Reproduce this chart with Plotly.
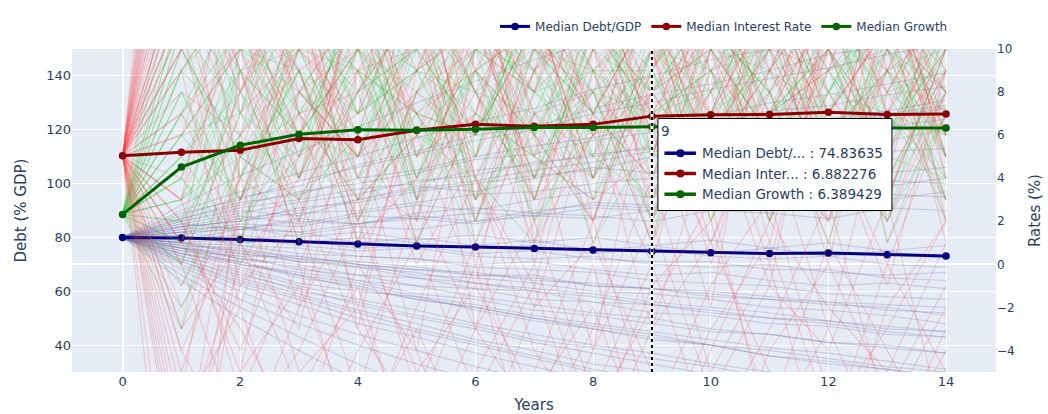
import plotly.graph_objects as go

# ---- data -------------------------------------------------------------
years = list(range(15))

median_debt = [80.0, 79.8, 79.2, 78.4, 77.6, 76.8, 76.4, 75.9, 75.3, 74.83635,
               74.3, 74.0, 74.2, 73.6, 73.1]
median_interest = [5.04, 5.21, 5.30, 5.84, 5.79, 6.23, 6.50, 6.41, 6.50, 6.882276,
                   6.95, 6.96, 7.06, 6.96, 6.98]
median_growth = [2.32, 4.52, 5.53, 6.04, 6.25, 6.23, 6.27, 6.35, 6.35, 6.389429,
                 6.37, 6.35, 6.34, 6.33, 6.33]

# simulated paths, years 1..14 (year 0 is the common starting point)
debt_paths = [
    [88, 95, 99, 107, 112, 118, 121, 128, 133, 137, 142, 148, 151, 156],
    [72, 66, 61, 55, 50, 46, 41, 37, 33, 29, 26, 22, 20, 17],
    [84, 86, 91, 93, 97, 100, 103, 105, 110, 112, 115, 119, 121, 124],
    [76, 70, 67, 64, 59, 57, 53, 51, 48, 45, 44, 41, 39, 37],
    [82, 79, 81, 84, 83, 86, 88, 87, 90, 92, 91, 94, 96, 95],
    [74, 69, 63, 60, 58, 53, 49, 46, 42, 40, 36, 34, 31, 28],
    [86, 90, 88, 94, 99, 97, 102, 106, 104, 109, 113, 111, 116, 120],
    [78, 75, 73, 70, 68, 67, 64, 63, 61, 60, 58, 56, 55, 54],
    [79, 83, 82, 78, 80, 77, 79, 75, 77, 74, 76, 73, 75, 72],
    [70, 62, 55, 48, 43, 37, 32, 27, 23, 19, 15, 12, 9, 6],
    [85, 83, 87, 85, 89, 91, 89, 93, 92, 96, 98, 97, 101, 100],
    [77, 72, 70, 66, 65, 61, 60, 56, 55, 52, 50, 49, 46, 45],
    [90, 97, 104, 110, 117, 123, 128, 135, 140, 146, 150, 156, 161, 166],
    [75, 73, 68, 66, 62, 61, 57, 56, 52, 51, 48, 47, 44, 43],
    [81, 77, 76, 73, 72, 70, 71, 68, 66, 67, 64, 62, 63, 61],
    [73, 67, 60, 56, 51, 47, 42, 39, 35, 32, 28, 26, 23, 21],
    [83, 84, 80, 82, 79, 81, 78, 80, 77, 79, 76, 78, 75, 77],
    [87, 92, 97, 100, 104, 109, 111, 116, 119, 122, 127, 129, 133, 136],
    [76, 74, 71, 70, 66, 65, 63, 60, 59, 57, 54, 53, 51, 48],
    [78, 80, 77, 75, 76, 73, 72, 73, 70, 69, 70, 67, 66, 67],
    [71, 64, 58, 52, 46, 41, 36, 31, 27, 24, 20, 17, 14, 12],
    [84, 88, 85, 89, 92, 90, 94, 97, 95, 99, 101, 100, 104, 106],
    [77, 76, 72, 71, 69, 66, 66, 62, 61, 58, 57, 55, 54, 51],
    [82, 85, 84, 88, 87, 85, 89, 88, 86, 90, 89, 87, 91, 90],
    [74, 71, 65, 62, 57, 54, 50, 47, 44, 40, 38, 35, 32, 30],
    [75, 71, 66, 63, 58, 55, 51, 48, 45, 42, 39, 37, 34, 31],
    [83, 87, 90, 94, 98, 101, 105, 108, 112, 115, 119, 122, 126, 129],
    [73, 68, 62, 57, 53, 48, 44, 40, 37, 33, 30, 27, 24, 22],
    [80, 78, 79, 76, 77, 74, 75, 72, 71, 71, 68, 68, 65, 64],
    [86, 91, 94, 98, 100, 105, 107, 111, 113, 117, 119, 123, 125, 128],
    [76, 72, 69, 64, 62, 58, 55, 52, 50, 46, 44, 41, 40, 37],
    [72, 65, 59, 53, 48, 42, 38, 33, 30, 26, 22, 19, 16, 13],
    [81, 84, 82, 85, 88, 86, 90, 92, 91, 94, 97, 96, 99, 102],
    [78, 74, 72, 69, 67, 63, 61, 59, 56, 54, 52, 49, 47, 45],
    [85, 89, 93, 96, 101, 103, 108, 110, 114, 118, 120, 124, 127, 131],
    [77, 75, 71, 69, 65, 63, 60, 58, 55, 53, 50, 48, 45, 43],
    [79, 81, 78, 80, 78, 76, 77, 74, 76, 73, 72, 73, 70, 69],
    [74, 70, 66, 61, 57, 54, 50, 46, 43, 40, 36, 33, 31, 28],
    [89, 94, 101, 106, 111, 116, 120, 126, 130, 135, 139, 143, 148, 152],
    [82, 83, 86, 85, 87, 89, 88, 91, 90, 93, 92, 95, 94, 97],
    [71, 63, 57, 50, 45, 40, 35, 30, 26, 22, 18, 15, 11, 8],
    [76, 73, 73, 70, 68, 66, 65, 62, 61, 59, 57, 56, 53, 52],
    [84, 86, 89, 90, 93, 96, 97, 100, 102, 105, 106, 109, 112, 113],
    [78, 77, 74, 73, 72, 69, 68, 67, 64, 63, 62, 59, 58, 57],
    [87, 93, 96, 102, 105, 110, 114, 117, 122, 125, 130, 133, 137, 141],
    [66, 54, 43, 33, 24, 16, 9, 3, -3, -8, -13, -17, -21, -25],
    [68, 57, 48, 40, 33, 27, 21, 16, 11, 7, 3, 0, -3, -6],
    [92, 103, 112, 121, 130, 138, 146, 153, 160, 167, 173, 179, 185, 190],
    [64, 50, 38, 27, 18, 10, 3, -3, -8, -13, -17, -21, -24, -27],
    [69, 60, 51, 44, 38, 32, 27, 22, 18, 14, 11, 8, 5, 3],
]

interest_paths = [
    [18, 4, 12, -3, 9, 15, 2, 11, 7, -2, 13, 8, 3, 10],
    [-6, 9, 1, 14, 6, -1, 12, 4, 16, 8, 0, 11, 14, 5],
    [12, 16, 7, 3, 11, 19, 6, -4, 9, 13, 5, 2, 12, 8],
    [2, -5, 8, 10, 1, 7, 14, 9, 3, 11, 17, 6, -1, 9],
    [9, 13, 20, 8, 14, 4, -2, 7, 12, 5, 9, 15, 10, 3],
    [-2, 3, 11, 6, -4, 10, 8, 15, 2, 9, 6, -3, 8, 13],
    [24, 10, 4, 12, 17, 5, 11, 1, 8, 14, 3, 10, 6, 11],
    [7, 1, -3, 9, 13, 8, 3, 12, 18, 6, 10, 4, 15, 7],
    [15, 8, 14, 17, 5, 12, 16, 6, 0, 10, 12, 18, 9, 2],
    [-10, 6, 9, 2, 8, 13, 0, 10, 6, 3, 15, 7, 11, 16],
    [4, 11, 6, 15, 10, 2, 9, 18, 11, 7, -1, 12, 4, 9],
    [11, -1, 5, 7, 19, 9, 5, 3, 13, 16, 8, 1, 10, 6],
    [0, 7, 16, 4, 2, 14, 10, 8, 5, 12, 10, 9, 17, 12],
    [20, 14, 9, 11, 7, 6, 18, 13, 10, 1, 7, 14, 2, 8],
    [6, 10, 2, 13, 12, -3, 7, 5, 14, 9, 11, 5, 13, 4],
    [-4, 2, 13, 0, 6, 11, 4, 16, 7, 12, 2, 16, 7, 14],
    [10, 5, 10, 18, 3, 8, 13, 7, -3, 6, 14, 9, 5, 10],
    [14, 12, 0, 6, 15, 3, 9, 11, 15, 10, 4, 11, 12, 1],
    [3, 17, 8, 5, 9, 16, 1, 6, 9, 17, 9, 6, 0, 7],
    [8, 6, 15, 1, 4, 7, 15, 10, 4, 8, 16, 3, 9, 15],
    [-8, 0, 4, 11, 16, 12, 6, 2, 11, 4, 8, 13, 16, 6],
    [16, 9, 3, 8, 0, 5, 10, 14, 6, 15, 6, 10, 3, 11],
    [1, 15, 12, 16, 11, 4, -1, 9, 12, 2, 11, 7, 11, 5],
    [12, 3, 7, -2, 8, 10, 12, 4, 8, 10, 1, 12, 8, 13],
    [22, 7, 10, 7, 13, 1, 7, 8, 1, 7, 12, 4, 6, 9],
    [19, 11, 5, 9, 2, 12, 8, 17, 5, 13, 7, 9, 16, 4],
    [-3, 5, 14, 10, 7, 3, 13, 6, 10, 0, 9, 15, 7, 12],
    [13, 6, -2, 15, 9, 11, 4, 8, 14, 6, 11, 3, 10, 17],
    [3, 12, 9, 1, 11, 14, 7, 2, 9, 15, 5, 10, 13, 6],
    [26, 15, 11, 5, 8, 6, 11, 12, 3, 8, 13, 6, 2, 9],
    [9, -2, 6, 12, 14, 8, 1, 13, 7, 11, 4, 14, 8, 3],
    [-12, 3, 10, 6, 1, 9, 14, 7, 12, 5, 10, 0, 12, 10],
    [6, 14, 4, 10, 16, 2, 10, 9, 1, 12, 15, 8, 4, 14],
    [17, 9, 12, 3, 6, 13, 5, 15, 10, 3, 7, 12, 9, 7],
    [1, 8, 15, 13, 4, 10, 12, 3, 5, 14, 9, 4, 15, 2],
    [10, 18, 7, 8, 12, 0, 8, 11, 16, 9, 2, 10, 5, 12],
    [-5, 4, 2, 9, 10, 15, 3, 6, 8, 4, 13, 7, 11, 8],
    [14, 1, 11, 14, 5, 7, 16, 10, 2, 10, 6, 17, 3, 10],
    [7, 10, 13, 2, 15, 9, 6, 4, 13, 7, 12, 2, 9, 14],
    [21, 13, 8, 12, 3, 11, 9, 14, 6, 1, 8, 11, 14, 5],
    [28, 12, 6, 10, 14, 4, 9, 13, 8, 11, 3, 9, 12, 6],
    [-16, 1, 8, 5, 11, 6, 13, 2, 10, 7, 14, 5, 9, 11],
    [31, 8, 13, 4, 9, 12, 3, 10, 15, 5, 9, 13, 1, 8],
    [-20, 5, 3, 13, 7, 9, 11, 7, 4, 12, 6, 2, 14, 9],
    [-4, -9, -2, 3, -6, 1, -8, -3, 4, -5, 0, -10, -2, 2],
    [1, -3, -8, 0, -4, -11, -5, 2, -7, -1, 3, -6, -9, -3],
    [-9, -1, 2, -6, 3, -3, -7, 0, -10, -4, 2, -2, -5, 1],
    [3, -6, 0, -9, -2, 4, -4, -8, -1, 2, -7, 1, -4, -9],
    [-1, 4, -5, -2, -9, -3, 2, -6, 0, -8, -3, 3, -7, -2],
    [-7, -2, -10, -4, 1, -6, -1, -9, -3, 1, -5, -8, 0, -5],
    [2, -4, 3, -3, -7, 0, -10, -4, 2, -6, -1, -4, 3, -8],
    [-11, -5, -1, -8, -3, -9, -2, 1, -5, -11, -4, 0, -6, -1],
    [0, -8, -4, 2, -5, -1, -6, -2, -9, -3, 1, -7, -3, 2],
    [-3, 1, -6, -1, -10, -5, 0, -7, -2, 3, -8, -3, -9, -4],
    [14, 19, 12, 22, 16, 11, 20, 15, 23, 13, 18, 21, 12, 17],
    [21, 13, 18, 11, 24, 17, 12, 22, 14, 19, 11, 16, 23, 15],
    [10, 16, 22, 15, 12, 20, 25, 13, 18, 24, 15, 12, 19, 22],
    [17, 24, 14, 20, 13, 23, 15, 19, 11, 16, 22, 18, 14, 20],
    [12, 11, 17, 25, 19, 14, 18, 24, 16, 12, 20, 14, 21, 13],
    [25, 15, 21, 13, 18, 12, 22, 11, 20, 17, 13, 24, 16, 19],
    [13, 20, 11, 18, 22, 16, 11, 17, 21, 14, 23, 12, 18, 11],
    [19, 12, 16, 14, 11, 21, 16, 20, 13, 22, 16, 19, 13, 24],
    [11, 22, 19, 12, 20, 13, 24, 14, 17, 11, 19, 15, 22, 16],
    [23, 17, 13, 19, 15, 24, 13, 21, 12, 18, 14, 22, 11, 18],
]

growth_paths = [
    [7, 3, 9, 5, 11, 2, 8, 6, 12, 4, 7, 10, 3, 8],
    [1, 8, 4, 10, 6, 9, 3, 11, 5, 8, 12, 4, 9, 6],
    [9, 12, 6, 2, 8, 13, 7, 4, 9, 14, 5, 8, 11, 3],
    [4, 0, 7, 9, 3, 6, 11, 8, 2, 7, 9, 13, 6, 10],
    [6, 10, 13, 7, 9, 4, 1, 9, 7, 3, 10, 6, 2, 7],
    [-1, 5, 8, 12, 5, 10, 6, 2, 10, 9, 4, 7, 12, 5],
    [11, 7, 3, 6, 14, 8, 10, 7, 4, 11, 8, 2, 7, 11],
    [3, 6, 10, 4, 7, 1, 9, 12, 6, 5, 13, 9, 5, 4],
    [8, 2, 5, 11, 1, 7, 5, 3, 8, 12, 3, 11, 8, 9],
    [5, 9, 1, 8, 10, 12, 4, 10, 13, 6, 7, 5, 10, 2],
    [2, 11, 7, 3, 6, 5, 13, 5, 3, 10, 6, 12, 4, 8],
    [10, 4, 11, 8, 12, 3, 7, 9, 11, 2, 9, 7, 13, 6],
    [0, 7, 5, 13, 4, 9, 2, 6, 7, 8, 11, 3, 6, 12],
    [7, 13, 9, 1, 8, 11, 8, 14, 5, 13, 2, 9, 10, 5],
    [4, 1, 12, 7, 10, 6, 12, 4, 10, 6, 10, 14, 1, 7],
    [12, 8, 2, 10, 3, 14, 6, 8, 1, 9, 5, 6, 9, 10],
    [3, 9, 6, 5, 13, 8, 3, 11, 8, 4, 12, 8, 7, 3],
    [6, 3, 10, 9, 7, 2, 10, 7, 12, 11, 8, 1, 11, 8],
    [9, 6, 4, 14, 2, 10, 9, 1, 6, 7, 14, 10, 5, 13],
    [1, 10, 8, 6, 11, 5, 14, 9, 9, 3, 6, 5, 8, 6],
    [5, 8, 12, 6, 9, 7, 4, 10, 8, 12, 5, 9, 3, 10],
    [10, 5, 7, 11, 4, 12, 9, 6, 3, 7, 10, 4, 11, 7],
    [-2, 4, 9, 3, 10, 6, 12, 8, 11, 5, 8, 13, 7, 4],
    [7, 11, 4, 8, 13, 3, 6, 11, 7, 9, 2, 8, 12, 9],
    [13, 9, 6, 10, 5, 9, 11, 3, 9, 13, 7, 10, 6, 11],
    [2, 6, 11, 9, 7, 10, 2, 7, 13, 4, 11, 6, 9, 5],
    [8, 3, 8, 5, 12, 8, 7, 13, 4, 10, 9, 3, 8, 12],
    [4, 12, 5, 13, 6, 4, 10, 5, 10, 8, 4, 12, 10, 7],
    [6, 7, 14, 7, 9, 11, 8, 9, 6, 11, 13, 7, 4, 9],
    [11, 2, 6, 10, 8, 5, 13, 10, 12, 2, 7, 9, 11, 3],
    [0, 9, 10, 4, 11, 7, 5, 8, 7, 9, 10, 14, 6, 10],
    [9, 13, 7, 12, 3, 9, 6, 12, 5, 6, 3, 8, 13, 8],
    [3, 5, 3, 8, 10, 13, 9, 4, 10, 11, 8, 5, 7, 6],
    [12, 10, 9, 2, 7, 6, 11, 7, 9, 5, 12, 10, 2, 11],
    [5, 1, 10, 11, 9, 8, 4, 11, 8, 10, 6, 11, 9, 4],
    [15, 7, 12, 9, 4, 10, 8, 5, 11, 9, 13, 6, 10, 8],
    [-3, 10, 6, 12, 9, 3, 12, 9, 2, 12, 7, 12, 5, 11],
    [17, 4, 9, 7, 13, 11, 5, 12, 9, 3, 11, 8, 13, 5],
]

series_names = ["Median Debt/GDP", "Median Interest Rate", "Median Growth"]
hover_names = ["Median Debt/...", "Median Inter...", "Median Growth"]
series_colors = ["#000080", "#8B0000", "#006400"]
HOVER_YEAR = 9

FONT = "DejaVu Sans, Verdana, sans-serif"
TEXT = "#2a3f5f"

fig = go.Figure()

# ---- simulation fans ---------------------------------------------------
for p in debt_paths:
    fig.add_trace(go.Scatter(x=years, y=[median_debt[0]] + p, mode="lines",
                             line=dict(color="rgba(80,80,150,0.2)", width=1.2),
                             hoverinfo="skip", showlegend=False))
for p in growth_paths:
    fig.add_trace(go.Scatter(x=years, y=[median_growth[0]] + p, mode="lines",
                             line=dict(color="rgba(40,200,40,0.22)", width=1.2),
                             hoverinfo="skip", showlegend=False, yaxis="y2"))
for p in interest_paths:
    fig.add_trace(go.Scatter(x=years, y=[median_interest[0]] + p, mode="lines",
                             line=dict(color="rgba(255,50,50,0.2)", width=1.2),
                             hoverinfo="skip", showlegend=False, yaxis="y2"))

# ---- medians -------------------------------------------------------------
medians = [median_debt, median_interest, median_growth]
axes = ["y", "y2", "y2"]
for name, vals, col, ax in zip(series_names, medians, series_colors, axes):
    fig.add_trace(go.Scatter(x=years, y=vals, mode="lines+markers", name=name,
                             line=dict(color=col, width=3),
                             marker=dict(color=col, size=7.5), yaxis=ax))

# ---- unified hover readout at the selected year ----------------------------
shapes = [
    dict(type="line", xref="x", yref="paper", x0=HOVER_YEAR, x1=HOVER_YEAR,
         y0=0, y1=1, line=dict(color="white", width=3), layer="above"),
    dict(type="line", xref="x", yref="paper", x0=HOVER_YEAR, x1=HOVER_YEAR,
         y0=0, y1=1, line=dict(color="black", width=2, dash="dot"), layer="above"),
    dict(type="rect", xref="x", yref="paper", xsizemode="pixel", ysizemode="pixel",
         xanchor=HOVER_YEAR, yanchor=1, x0=6, x1=240, y0=-69.5, y1=-161.5,
         fillcolor="white", line=dict(color="black", width=1), layer="above"),
]
annotations = [
    dict(x=HOVER_YEAR, y=1, xref="x", yref="paper", xanchor="left", yanchor="middle",
         xshift=7, yshift=-81.5, text=str(HOVER_YEAR), showarrow=False,
         font=dict(family=FONT, size=13.5, color=TEXT)),
]
row_shift = [-104.2, -124.5, -145.2]
for hname, vals, col, ys in zip(hover_names, medians, series_colors, row_shift):
    shapes.append(dict(type="line", xref="x", yref="paper", xsizemode="pixel",
                       ysizemode="pixel", xanchor=HOVER_YEAR, yanchor=1,
                       x0=12.5, x1=44, y0=ys, y1=ys,
                       line=dict(color=col, width=3.5), layer="above"))
    shapes.append(dict(type="circle", xref="x", yref="paper", xsizemode="pixel",
                       ysizemode="pixel", xanchor=HOVER_YEAR, yanchor=1,
                       x0=24.5, x1=32.5, y0=ys - 4, y1=ys + 4,
                       fillcolor=col, line=dict(color=col, width=0), layer="above"))
    annotations.append(dict(x=HOVER_YEAR, y=1, xref="x", yref="paper",
                            xanchor="left", yanchor="middle", xshift=48, yshift=ys,
                            text=f"{hname} : {vals[HOVER_YEAR]:.7g}", showarrow=False,
                            font=dict(family=FONT, size=13.5, color=TEXT)))

fig.update_layout(
    width=1048, height=414,
    margin=dict(l=72, r=52, t=47, b=42),
    font=dict(family=FONT, size=13, color=TEXT),
    plot_bgcolor="#E5ECF6", paper_bgcolor="white",
    legend=dict(orientation="h", x=0.9535, xanchor="right", y=1.025, yanchor="bottom",
                font=dict(size=12, color=TEXT)),
    xaxis=dict(title=dict(text="Years", font=dict(size=15), standoff=14),
               range=[-0.86, 14.85], automargin=False,
               dtick=2, gridcolor="white", zerolinecolor="white", zerolinewidth=2,
               showline=False),
    yaxis=dict(title=dict(text="Debt (% GDP)", font=dict(size=15)), range=[30, 150],
               automargin=False, dtick=20, gridcolor="white", zeroline=False),
    yaxis2=dict(title=dict(text="Rates (%)", font=dict(size=15)), range=[-5, 10],
                automargin=False, dtick=2, overlaying="y", side="right",
                showgrid=False, zerolinecolor="white", zerolinewidth=2,
                tickfont=dict(size=12)),
    shapes=shapes, annotations=annotations, hovermode="x unified",
)

fig.write_html("out.html")
